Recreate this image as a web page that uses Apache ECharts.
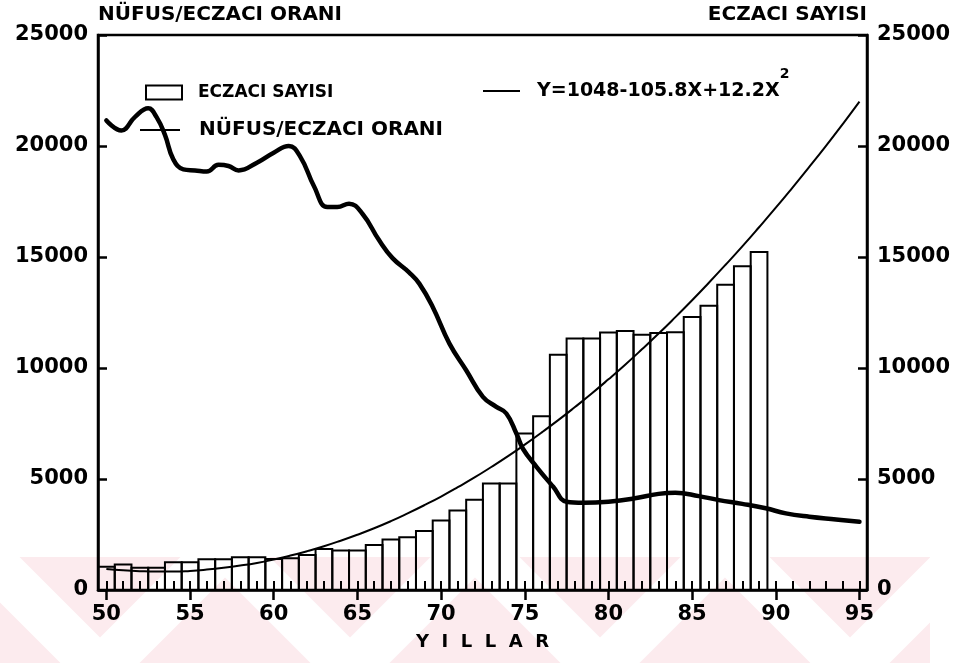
<!DOCTYPE html>
<html>
<head>
<meta charset="utf-8">
<script src="https://cdn.jsdelivr.net/npm/echarts@6/dist/echarts.min.js"></script>
<style>
  html, body { margin: 0; padding: 0; background: #fff; }
  #chart { width: 966px; height: 663px; }
</style>
</head>
<body>
<div id="chart"></div>
<script>
// Years with a pharmacist count (one bar per year)
const barYears = [50, 51, 52, 53, 54, 55, 56, 57, 58, 59,
                  60, 61, 62, 63, 64, 65, 66, 67, 68, 69,
                  70, 71, 72, 73, 74, 75, 76, 77, 78, 79,
                  80, 81, 82, 83, 84, 85, 86, 87, 88, 89];
// Number of pharmacists (ECZACI SAYISI)
const pharmacistCounts = [1050, 1150, 1000, 1000, 1250, 1250, 1380, 1380, 1470, 1470,
                          1400, 1430, 1575, 1850, 1780, 1780, 2025, 2280, 2380, 2655,
                          3130, 3580, 4060, 4800, 4800, 7050, 7830, 10600, 11330, 11330,
                          11600, 11670, 11500, 11580, 11610, 12300, 12800, 13750, 14580, 15230];

// Population per pharmacist (NÜFUS/ECZACI ORANI)
const ratioYears = [50, 50.9, 51.7, 52.5, 53.0, 53.5, 54.0, 54.6, 55.3, 56.0,
                    56.7, 57.3, 57.9, 59.0, 60.0, 60.9, 61.6, 62.4, 63.2, 63.8,
                    64.5, 65.3, 66.3, 67.1, 68.1, 68.7, 69.5, 70.5, 71.5, 72.5,
                    73.3, 73.9, 74.5, 74.9, 75.7, 76.7, 77.5, 78.5, 80.0, 81.5,
                    83.0, 84.0, 85.4, 86.6, 88.0, 89.4, 90.6, 92.0, 93.6, 95.0];
const ratioValues = [21150, 20700, 21300, 21700, 21300, 20500, 19400, 18950, 18900, 18850,
                     19150, 19100, 18900, 19250, 19700, 20000, 19500, 18200, 17250, 17250,
                     17400, 16950, 15750, 14950, 14300, 13800, 12750, 11100, 9900, 8700,
                     8250, 7950, 7050, 6350, 5550, 4650, 3975, 3930, 3980, 4120,
                     4330, 4380, 4230, 4050, 3880, 3680, 3450, 3300, 3180, 3075];

// Fitted trend of the pharmacist count
const fitYears = [50, 51, 52, 53, 54, 55, 56, 57, 58, 59,
                  60, 61, 62, 63, 64, 65, 66, 67, 68, 69,
                  70, 71, 72, 73, 74, 75, 76, 77, 78, 79,
                  80, 81, 82, 83, 84, 85, 86, 87, 88, 89,
                  90, 91, 92, 93, 94, 95];
const fitValues = [950, 890, 850, 830, 830, 860, 920, 1000, 1100, 1220,
                   1370, 1550, 1750, 1970, 2220, 2490, 2780, 3100, 3450, 3820,
                   4210, 4630, 5070, 5540, 6030, 6550, 7090, 7650, 8240, 8850,
                   9490, 10150, 10840, 11550, 12290, 13050, 13840, 14650, 15480, 16340,
                   17220, 18130, 19060, 20010, 20990, 22000];

// Axis ticks and labels
const minorTickYears = [];
for (let y = 50; y <= 95; y++) minorTickYears.push(y);
const majorTickYears = [50, 55, 60, 65, 70, 75, 80, 85, 90, 95];

const NAME_BARS = 'ECZACI SAYISI';
const NAME_RATIO = 'NÜFUS/ECZACI ORANI';
const NAME_FIT = 'Y=1048-105.8X+12.2X²';

const FONT = '"DejaVu Sans", sans-serif';
const INK = '#000';
const PINK = '#fcebee';

const chart = echarts.init(document.getElementById('chart'), null, { renderer: 'canvas' });

const xCommon = {
  type: 'value',
  min: 49.5,
  max: 95.45,
  splitLine: { show: false }
};

const yCommon = {
  type: 'value',
  min: 0,
  max: 25000,
  interval: 5000,
  splitLine: { show: false },
  axisLine: { show: true, lineStyle: { color: INK, width: 2.5 } },
  axisTick: { show: true, inside: true, length: 9, lineStyle: { color: INK, width: 2.5 } },
  axisLabel: { color: INK, fontFamily: FONT, fontWeight: 'bold', fontSize: 21, margin: 10,
               formatter: (v) => String(v) },
  nameLocation: 'end',
  nameGap: 10,
  nameTextStyle: { color: INK, fontFamily: FONT, fontWeight: 'bold', fontSize: 20 }
};

// faint chevron band along the bottom of the page
function chevron(apexX) {
  return {
    type: 'polyline',
    silent: true,
    z: -10,
    shape: { points: [[apexX - 130, 540], [apexX, 670], [apexX + 130, 540]] },
    style: { stroke: '#fff', lineWidth: 46, fill: null }
  };
}

const legendText = { color: INK, fontFamily: FONT, fontWeight: 'bold', fontSize: 17 };

const option = {
  backgroundColor: '#fff',
  animation: false,
  graphic: [
    { type: 'rect', silent: true, z: -20, shape: { x: 0, y: 557, width: 930, height: 106 }, style: { fill: PINK } },
    chevron(100), chevron(350), chevron(600), chevron(850)
  ],
  grid: {
    left: 98, right: 99, top: 35, bottom: 73,
    show: true, borderColor: INK, borderWidth: 2.5, backgroundColor: 'transparent'
  },
  legend: [
    {
      data: [{ name: NAME_BARS, icon: 'rect', itemStyle: { color: '#fff', borderColor: INK, borderWidth: 2 } }],
      left: 140, top: 79,
      itemWidth: 36, itemHeight: 14,
      selectedMode: false,
      textStyle: Object.assign({}, legendText, { padding: [0, 0, 0, 11] })
    },
    {
      data: [{ name: NAME_RATIO, icon: 'rect', itemStyle: { color: INK } }],
      left: 135, top: 115,
      itemWidth: 40, itemHeight: 2,
      lineStyle: { width: 2 },
      selectedMode: false,
      textStyle: Object.assign({}, legendText, { fontSize: 20, padding: [0, 0, 0, 14] })
    },
    {
      data: [{ name: NAME_FIT, icon: 'rect', itemStyle: { color: INK } }],
      left: 478, top: 62,
      itemWidth: 37, itemHeight: 2,
      lineStyle: { width: 2 },
      selectedMode: false,
      formatter: (name) => name.replace('²', '{sup|2}'),
      textStyle: Object.assign({}, legendText, {
        fontSize: 19, padding: [0, 0, 0, 12],
        rich: {
          sup: { color: INK, fontFamily: FONT, fontWeight: 'bold', fontSize: 14, padding: [0, 0, 34, 0] }
        }
      })
    }
  ],
  xAxis: [
    Object.assign({}, xCommon, {
      position: 'bottom',
      axisLine: { show: true, lineStyle: { color: INK, width: 2.5 } },
      axisTick: { show: true, inside: true, length: 9, customValues: minorTickYears,
                  lineStyle: { color: INK, width: 2 } },
      axisLabel: { show: false }
    }),
    Object.assign({}, xCommon, {
      position: 'bottom',
      axisLine: { show: false },
      axisTick: { show: true, inside: false, length: 10, customValues: majorTickYears,
                  lineStyle: { color: INK, width: 2.5 } },
      axisLabel: { show: true, customValues: majorTickYears, margin: 14,
                   color: INK, fontFamily: FONT, fontWeight: 'bold', fontSize: 21 },
      name: 'Y  I  L  L  A  R',
      nameLocation: 'middle',
      nameGap: 43,
      nameTextStyle: { color: INK, fontFamily: FONT, fontWeight: 'bold', fontSize: 18 }
    })
  ],
  yAxis: [
    Object.assign({}, yCommon, {
      position: 'left',
      name: NAME_RATIO,
      nameTextStyle: Object.assign({}, yCommon.nameTextStyle, { align: 'left' })
    }),
    Object.assign({}, yCommon, {
      position: 'right',
      name: NAME_BARS,
      nameTextStyle: Object.assign({}, yCommon.nameTextStyle, { align: 'right' })
    })
  ],
  series: [
    {
      // one open rectangle per year, each a full year wide
      name: NAME_BARS,
      type: 'custom',
      xAxisIndex: 0,
      yAxisIndex: 1,
      z: 2,
      itemStyle: { color: '#fff', borderColor: INK, borderWidth: 2 },
      data: barYears.map((yr, i) => [yr, pharmacistCounts[i]]),
      renderItem: function (params, api) {
        const yr = api.value(0);
        const v = api.value(1);
        const p0 = api.coord([yr - 0.5, v]);
        const p1 = api.coord([yr + 0.5, 0]);
        return {
          type: 'rect',
          shape: { x: p0[0], y: p0[1], width: p1[0] - p0[0], height: p1[1] - p0[1] },
          style: { fill: 'rgba(255,255,255,0)', stroke: INK, lineWidth: 2 }
        };
      }
    },
    {
      name: NAME_FIT,
      type: 'line',
      xAxisIndex: 0,
      yAxisIndex: 1,
      z: 3,
      symbol: 'none',
      smooth: true,
      lineStyle: { color: INK, width: 2 },
      itemStyle: { color: INK },
      data: fitYears.map((yr, i) => [yr, fitValues[i]])
    },
    {
      name: NAME_RATIO,
      type: 'line',
      xAxisIndex: 0,
      yAxisIndex: 0,
      z: 4,
      symbol: 'none',
      smooth: 0.45,
      lineStyle: { color: INK, width: 4.5, join: 'round', cap: 'round' },
      itemStyle: { color: INK },
      data: ratioYears.map((yr, i) => [yr, ratioValues[i]])
    }
  ]
};

chart.setOption(option);
</script>
</body>
</html>
